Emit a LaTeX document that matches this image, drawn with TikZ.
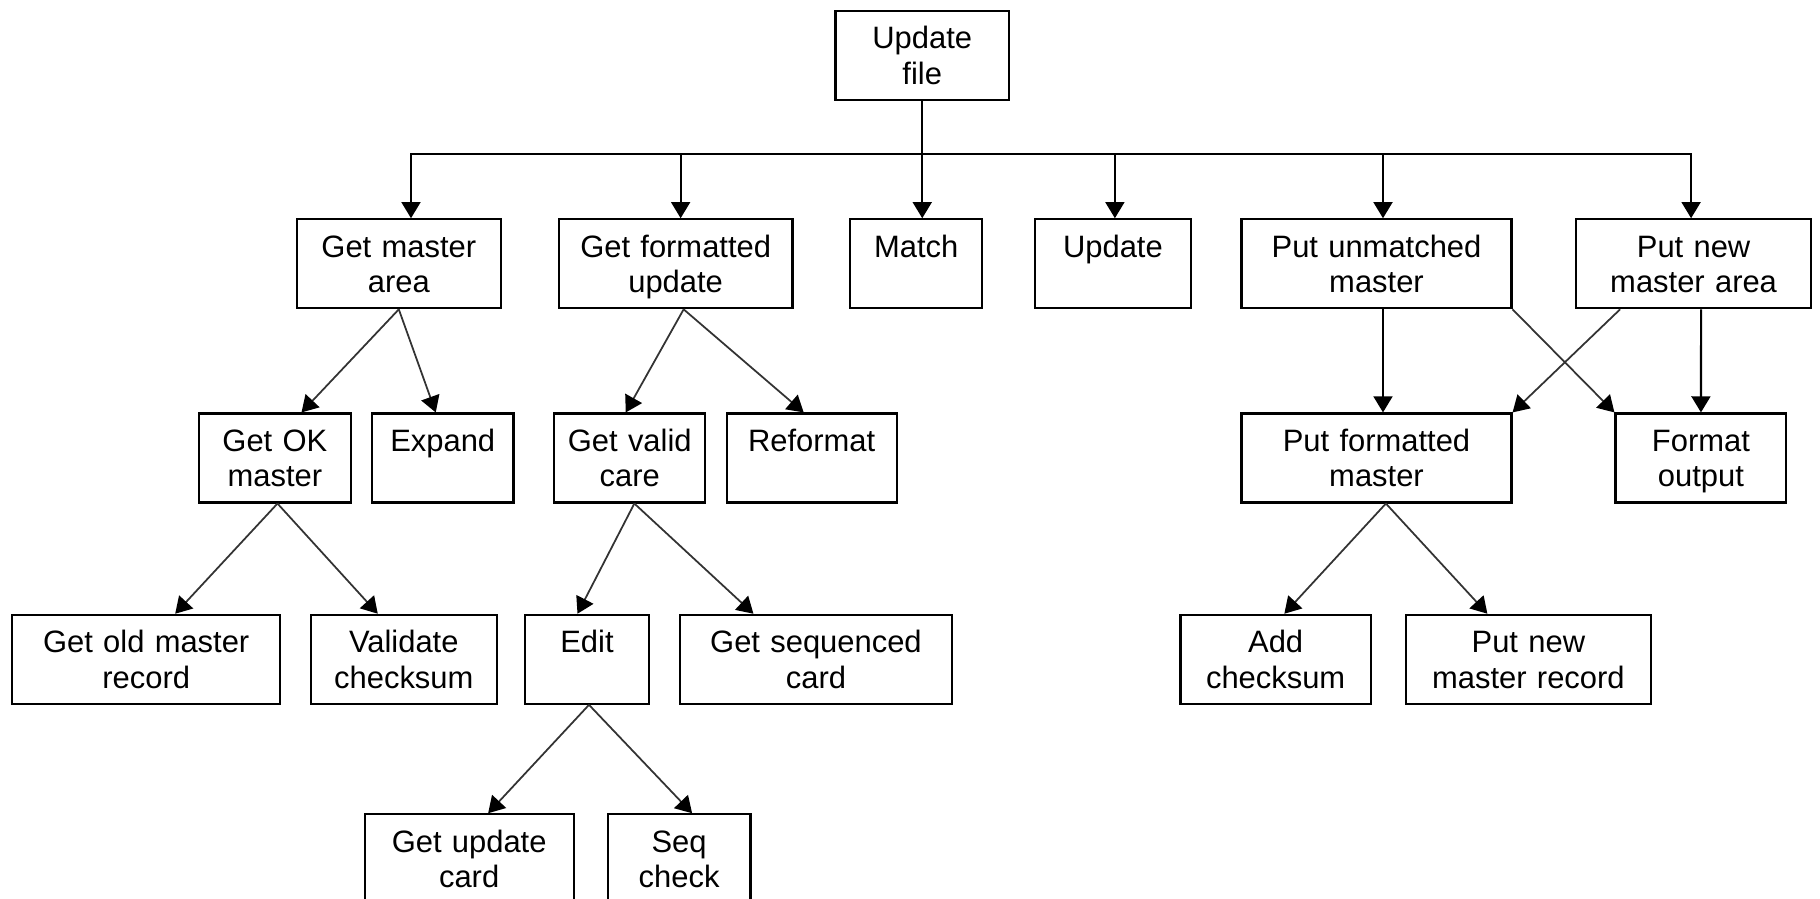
\documentclass[tikz,border=0pt]{standalone}
\usepackage{fontspec}
\setmainfont{Liberation Sans}
\usetikzlibrary{arrows.meta}

\tikzset{
  box/.style={draw,line width=0.6pt,inner sep=0pt,align=center,text height=0.38cm,text depth=0.51cm,font=\fontsize{8.8}{10.05}\selectfont},
  link/.style={->,line width=0.6pt},
  slant/.style={->,line width=0.5pt,draw=black!80}
}

\begin{document}
\begin{tikzpicture}[line join=miter,>={Triangle[length=4.6pt,width=5.4pt,color=black]}]
  \useasboundingbox (0,0) rectangle (18.2,-8.99);
  \def\ya{-0.552}
  \def\yb{-2.638}
  \def\yc{-4.580}
  \def\yd{-6.593}
  \def\ye{-8.588}
  \node[box,text width=1.735cm] (upd) at (9.2225,\ya) {Update\\file};
  \node[box,text width=2.044cm] (gma) at (3.988,\yb) {Get master\\area};
  \node[box,text width=2.337cm] (gfu) at (6.7565,\yb) {Get formatted\\update};
  \node[box,text width=1.322cm] (mat) at (9.163,\yb) {Match};
  \node[box,text width=1.562cm] (upd2) at (11.129,\yb) {Update};
  \node[box,text width=2.70cm] (pum) at (13.765,\yb) {Put unmatched\\master};
  \node[box,text width=2.346cm] (pnma) at (16.936,\yb) {Put new\\master area};
  \node[box,text width=1.518cm] (gok) at (2.749,\yc) {Get OK\\master};
  \node[box,text width=1.415cm] (exp) at (4.4275,\yc) {Expand};
  \node[box,text width=1.509cm] (gvc) at (6.2975,\yc) {Get valid\\care};
  \node[box,text width=1.70cm] (ref) at (8.117,\yc) {Reformat};
  \node[box,text width=2.70cm] (pfm) at (13.765,\yc) {Put formatted\\master};
  \node[box,text width=1.709cm] (fo) at (17.0095,\yc) {Format\\output};
  \node[box,text width=2.684cm] (gomr) at (1.462,\yd) {Get old master\\record};
  \node[box,text width=1.856cm] (val) at (4.038,\yd) {Validate\\checksum};
  \node[box,text width=1.24cm] (edit) at (5.87,\yd) {Edit};
  \node[box,text width=2.715cm] (gsc) at (8.1595,\yd) {Get sequenced\\card};
  \node[box,text width=1.903cm] (addc) at (12.7565,\yd) {Add\\checksum};
  \node[box,text width=2.444cm] (pnmr) at (15.284,\yd) {Put new\\master record};
  \node[box,text width=2.091cm] (guc) at (4.6915,\ye) {Get update\\card};
  \node[box,text width=1.428cm] (seq) at (6.791,\ye) {Seq\\check};
  \draw[link] (upd.south) -- ++(0,-0.533) -| ([xshift=0.122cm]gma.north);
  \draw[link] (upd.south) -- ++(0,-0.533) -| ([xshift=0.05cm]gfu.north);
  \draw[link] (upd.south) -- (upd.south |- mat.north);
  \draw[link] (upd.south) -- ++(0,-0.533) -| ([xshift=0.02cm]upd2.north);
  \draw[link] (upd.south) -- ++(0,-0.533) -| ([xshift=0.065cm]pum.north);
  \draw[link] (upd.south) -- ++(0,-0.533) -| ([xshift=-0.025cm]pnma.north);
  \draw[slant] (gma.south) -- ([xshift=0.266cm]gok.north);
  \draw[slant] (gma.south) -- ([xshift=-0.07cm]exp.north);
  \draw[slant] ([xshift=0.08cm]gfu.south) -- ([xshift=-0.04cm]gvc.north);
  \draw[slant] ([xshift=0.08cm]gfu.south) -- ([xshift=-0.08cm]ref.north);
  \draw[link] ([xshift=0.065cm]pum.south) -- ([xshift=0.065cm]pfm.north);
  \draw[slant] (pum.south east) -- (fo.north west);
  \draw[slant] ([xshift=-0.735cm]pnma.south) -- (pfm.north east);
  \draw[link] ([xshift=0.075cm]pnma.south) -- (fo.north);
  \draw[slant] ([xshift=0.026cm]gok.south) -- ([xshift=0.29cm]gomr.north);
  \draw[slant] ([xshift=0.026cm]gok.south) -- ([xshift=-0.26cm]val.north);
  \draw[slant] ([xshift=0.046cm]gvc.south) -- ([xshift=-0.095cm]edit.north);
  \draw[slant] ([xshift=0.046cm]gvc.south) -- ([xshift=-0.625cm]gsc.north);
  \draw[slant] ([xshift=0.094cm]pfm.south) -- ([xshift=0.087cm]addc.north);
  \draw[slant] ([xshift=0.094cm]pfm.south) -- ([xshift=-0.41cm]pnmr.north);
  \draw[slant] ([xshift=0.02cm]edit.south) -- ([xshift=0.19cm]guc.north);
  \draw[slant] ([xshift=0.02cm]edit.south) -- ([xshift=0.13cm]seq.north);
\end{tikzpicture}
\end{document}
